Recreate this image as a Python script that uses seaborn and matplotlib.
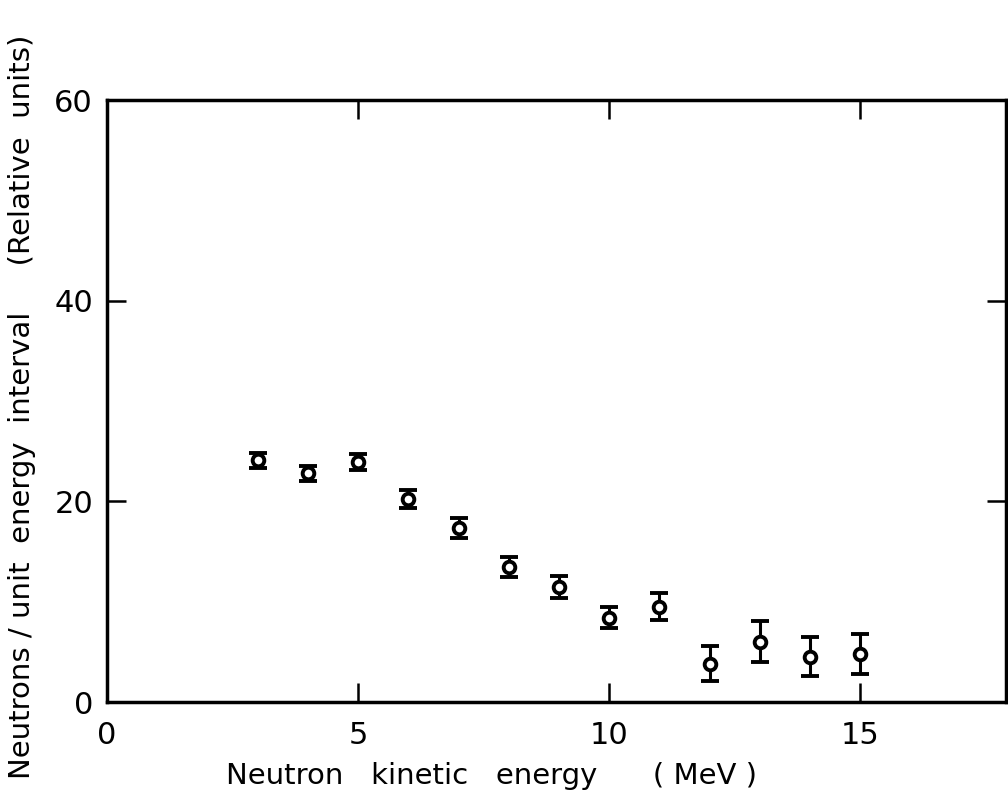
import matplotlib
matplotlib.use("Agg")
import matplotlib.pyplot as plt
import seaborn as sns
import pandas as pd

# Neutron spectrum: energy bins (MeV), yield and one-sigma errors (relative units)
energy = [3, 4, 5, 6, 7, 8, 9, 10, 11, 12, 13, 14, 15]
counts = [24.1, 22.8, 23.9, 20.2, 17.3, 13.5, 11.5, 8.4, 9.5, 3.8, 6.0, 4.5, 4.8]
errors = [0.75, 0.75, 0.8, 0.9, 1.0, 1.0, 1.1, 1.05, 1.35, 1.75, 2.05, 1.95, 2.0]

x_ticks = [0, 5, 10, 15]
y_ticks = [0, 20, 40, 60]

df = pd.DataFrame({"energy": energy, "counts": counts, "err": errors})

sns.set_theme(style="ticks")
plt.rcParams["font.family"] = ["DejaVu Sans"]

fig = plt.figure(figsize=(10.08, 7.97), dpi=100)
ax = fig.add_axes([107 / 1008, 1 - 702 / 797, (1006 - 107) / 1008, (702 - 100) / 797])

ax.errorbar(df["energy"], df["counts"], yerr=df["err"], fmt="none",
            ecolor="black", elinewidth=2.2, capsize=6.5, capthick=2.8, zorder=2)
sns.scatterplot(data=df, x="energy", y="counts", ax=ax, marker="o", s=70,
                facecolor="white", edgecolor="black", linewidth=2.8, zorder=3)

ax.set_xlim(0, 17.9)
ax.set_ylim(0, 60)
ax.set_xticks(x_ticks)
ax.set_yticks(y_ticks)
ax.set_xticklabels([str(t) for t in x_ticks])
ax.set_yticklabels([str(t) for t in y_ticks])

for side in ["left", "bottom", "top", "right"]:
    ax.spines[side].set_linewidth(2.5)
    ax.spines[side].set_color("black")

ax.tick_params(axis="both", direction="in", length=14, width=1.8, color="black",
               labelsize=22, labelcolor="black", top=True, right=True, pad=10)
ax.tick_params(axis="x", labelbottom=True, labeltop=False, pad=14)
ax.tick_params(axis="y", labelleft=True, labelright=False)

ax.set_xlabel("Neutron   kinetic   energy      ( MeV )", fontsize=21, color="black")
ax.xaxis.set_label_coords((492 - 107) / (1006 - 107), -0.1)
ax.set_ylabel("Neutrons / unit  energy  interval     (Relative  units)",
              fontsize=21, color="black")
ax.yaxis.set_label_coords((36 - 107) / (1006 - 107), 0.49)

fig.savefig("out.png", dpi=100, facecolor="white")
